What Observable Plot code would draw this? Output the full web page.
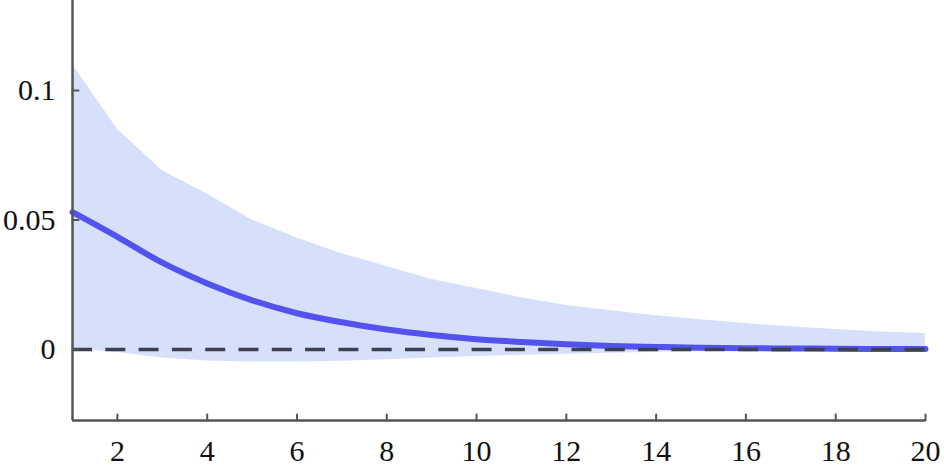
<!DOCTYPE html>
<html>
<head>
<meta charset="utf-8">
<script src="https://cdn.jsdelivr.net/npm/d3@7"></script>
<script src="https://cdn.jsdelivr.net/npm/@observablehq/plot@0.6"></script>
<style>
  html, body { margin: 0; padding: 0; background: #fff; }
  #chart svg { display: block; }
</style>
</head>
<body>
<div id="chart"></div>
<script>
const periods = [1,2,3,4,5,6,7,8,9,10,11,12,13,14,15,16,17,18,19,20];
const meanResponse = [0.053,0.0435,0.0335,0.0255,0.019,0.014,0.0105,0.0077,0.0056,0.0040,0.0029,0.0020,0.0014,0.0010,0.0007,0.0005,0.0004,0.0003,0.0002,0.00015];
const upperBand = [0.110,0.085,0.069,0.060,0.050,0.043,0.037,0.032,0.027,0.0235,0.020,0.017,0.0150,0.013,0.0115,0.0100,0.0088,0.0077,0.0068,0.0062];
const lowerBand = [0.0003,-0.0012,-0.0033,-0.0044,-0.0048,-0.0048,-0.0045,-0.0040,-0.0033,-0.0027,-0.0022,-0.0018,-0.0014,-0.0011,-0.0009,-0.0007,-0.0006,-0.0005,-0.0004,-0.0003];
const xTicks = [2,4,6,8,10,12,14,16,18,20];
const yTicks = [0,0.05,0.1];
const yDomain = [-0.0274, 0.1347];
const xDomain = [1, 20];

const rows = periods.map((p, i) => ({p, mean: meanResponse[i], lo: lowerBand[i], hi: upperBand[i]}));

const tickShape = { draw(context, l) { context.moveTo(0, 0); context.lineTo(0, -l); } };
const axisColor = "#555";
const font = "'Liberation Serif', 'Times New Roman', serif";

const chart = Plot.plot({
  width: 944,
  height: 470,
  marginLeft: 72,
  marginRight: 19,
  marginTop: 0,
  marginBottom: 50,
  style: { fontFamily: font, fontSize: "30px", color: "#111", background: "#fff" },
  x: { domain: xDomain, label: null },
  y: { domain: yDomain, label: null },
  marks: [
    Plot.areaY(rows, {x: "p", y1: "lo", y2: "hi", fill: "#d6e0fb", fillOpacity: 1}),
    Plot.line(rows, {x: "p", y: "mean", stroke: "#5252ee", strokeWidth: 6, curve: "monotone-x"}),
    Plot.ruleY([0], {x1: xDomain[0], x2: xDomain[1], stroke: "#3c4050", strokeWidth: 3.5, strokeDasharray: "20,13.3"}),
    Plot.ruleX([xDomain[0]], {stroke: axisColor, strokeWidth: 2.5}),
    Plot.ruleY([yDomain[0]], {x1: xDomain[0], x2: xDomain[1], stroke: axisColor, strokeWidth: 2.5}),
    Plot.vector(yTicks, {x: xDomain[0], y: d => d, rotate: 90, length: 6, anchor: "start", shape: tickShape, stroke: axisColor, strokeWidth: 2}),
    Plot.vector(xTicks, {x: d => d, y: yDomain[0], rotate: 0, length: 6, anchor: "start", shape: tickShape, stroke: axisColor, strokeWidth: 2}),
    Plot.axisY(yTicks, {tickSize: 0, tickPadding: 17, tickFormat: d => String(d), fontSize: 30, fill: "#111", label: null}),
    Plot.axisX(xTicks, {tickSize: 0, tickPadding: 19, tickFormat: d => String(d), fontSize: 30, fill: "#111", label: null})
  ]
});
document.getElementById("chart").appendChild(chart);
</script>
</body>
</html>
